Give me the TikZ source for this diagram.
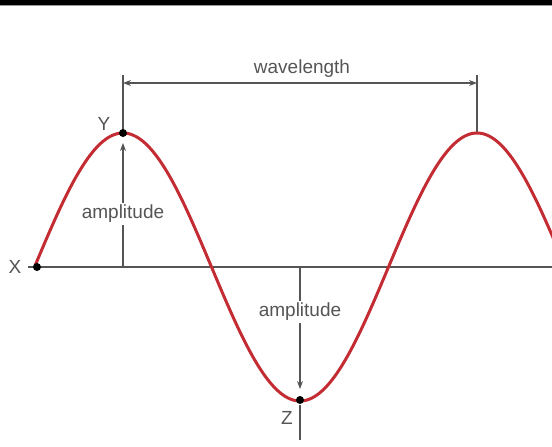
\documentclass[tikz,border=0pt]{standalone}
\usepackage{fontspec}
\setmainfont{Liberation Sans}
\usetikzlibrary{arrows.meta}
\definecolor{wavered}{RGB}{196,44,52}
\definecolor{ink}{RGB}{85,85,85}
\begin{document}
\begin{tikzpicture}[x=1pt,y=-1pt,
  lbl/.style={text=ink,font=\fontsize{19}{20}\selectfont,inner sep=1pt},
  lblbg/.style={lbl,fill=white,inner sep=2pt},
  dot/.style={circle,fill=black,inner sep=0pt,minimum size=8pt},
  guide/.style={draw=ink,line width=1.1pt},
  arr/.style={guide,-{Stealth[length=8pt,width=6pt]}},
  darr/.style={guide,{Stealth[length=8pt,width=6pt]}-{Stealth[length=8pt,width=6pt]}}]
\useasboundingbox (0,0) rectangle (552,447);
\fill[black] (0,0) rectangle (552,5);
\fill[ink!60] (0,5) rectangle (552,6);
% coordinates
\coordinate (axL) at (28,267);
\coordinate (axR) at (552,267);
\coordinate (A1) at (123,267);
\coordinate (A1tip) at (123,143);
\coordinate (A2) at (300,267);
\coordinate (A2tip) at (300,389);
\coordinate (Zlow) at (300,440);
\coordinate (T1top) at (123,75);
\coordinate (T2top) at (477,75);
\coordinate (P2) at (477,133);
\coordinate (W1) at (123,83);
\coordinate (W2) at (477,83);
% axis
\draw[guide] (axL) -- (axR);
% wavelength
\draw[guide] (T1top) -- (123,133);
\draw[guide] (T2top) -- (P2);
\draw[darr] (W1) -- (W2);
\node[lbl] (wl) at (302,69) {wavelength};
% amplitudes
\draw[arr] (A1) -- (A1tip);
\node[lblbg] (amp1) at (123,214) {amplitude};
\draw[arr] (A2) -- (A2tip);
\node[lblbg] (amp2) at (300,312) {amplitude};
\draw[guide] (300,405) -- (Zlow);
% wave
\begin{scope}
\clip (0,0) rectangle (552,447);
\draw[wavered,line width=3pt,domain=35:560,samples=240,smooth]
  plot (\x,{267-134*cos((\x-123)/354*360)});
\end{scope}
% points
\node[dot] (X) at (37,267) {};
\node[dot] (Y) at (123,133) {};
\node[dot] (Z) at (300,400) {};
\node[lbl] (Xl) at (15,267) {X};
\node[lbl] (Yl) at (104,124) {Y};
\node[lbl] (Zl) at (287,418) {Z};
\end{tikzpicture}
\end{document}
